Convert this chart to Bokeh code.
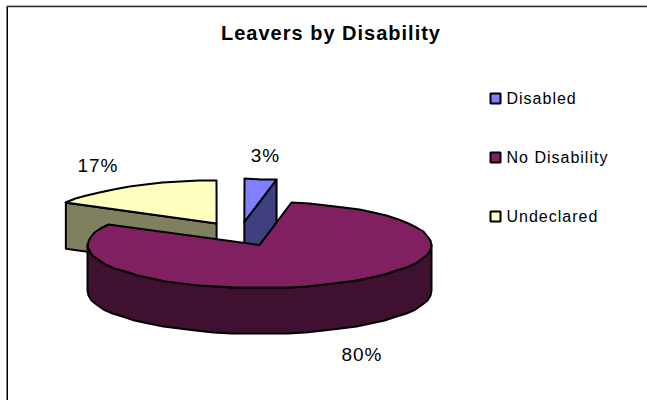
import math
from bokeh.plotting import figure
from bokeh.core.properties import value
from bokeh.embed import file_html
from bokeh.resources import INLINE

categories = ["Disabled", "No Disability", "Undeclared"]
shares = [3, 80, 17]
pct_labels = ["3%", "80%", "17%"]
title_text = "Leavers by Disability"
top_colors = ["#8080FF", "#802060", "#FFFFC0"]
wall_colors = ["#404080", "#401030", "#808060"]

# layout in page pixels
CX, CY, A, B, DEPTH, EXPLODE = 239.5, 233.5, 172, 43, 46, 46
FONT = value("Liberation Sans")

p = figure(width=641, height=395, output_backend="svg", toolbar_location=None,
           x_range=(6, 647), y_range=(400, 5), min_border=0,
           margin=(5, 0, 0, 6), outline_line_color=None,
           styles={"letter-spacing": "1px"})
p.axis.visible = False
p.grid.visible = False
p.background_fill_color = "white"
p.border_fill_color = "white"

p.line([6.5, 6.5], [400, 6], line_color="black", line_width=2)
p.line([6, 647], [5.8, 5.8], line_color="#333333", line_width=2)


def rim(t, c):
    return c[0] + A * math.sin(t), c[1] - B * math.cos(t)


def arc(t0, t1, c, dy=0):
    n = max(2, int(abs(t1 - t0) / math.radians(6)))
    pts = [rim(t0 + (t1 - t0) * i / n, c) for i in range(n + 1)]
    return [round(x) for x, _ in pts], [round(y) + dy for _, y in pts]


total = sum(shares)
slices = []
start = 0.0
for s in shares:
    sweep = 2 * math.pi * s / total
    mid = start + sweep / 2
    c = (CX + EXPLODE * math.sin(mid), CY - EXPLODE * 45 / 171 * math.cos(mid))
    slices.append((start, start + sweep, c))
    start += sweep

style = dict(line_color="black", line_width=2, line_join="round")

# Undeclared, then Disabled, then No Disability in front
for i in (2, 0, 1):
    t0, t1, c = slices[i]
    # cut faces seen from the front
    if i == 2:
        ex, ey = rim(t0, c)
        p.patch([ex, c[0], c[0], ex], [ey, c[1], c[1] + DEPTH, ey + DEPTH],
                fill_color=wall_colors[i], **style)
    if i == 0:
        ex, ey = rim(t1, c)
        p.patch([c[0], ex, ex, c[0]], [c[1], ey, ey + DEPTH, c[1] + DEPTH],
                fill_color=wall_colors[i], **style)
    if i == 1:
        wx, wy = arc(math.pi / 2, 3 * math.pi / 2, c)
        wbx, wby = arc(3 * math.pi / 2, math.pi / 2, c, DEPTH)
        p.patch(wx + wbx, wy + wby, fill_color=wall_colors[i], **style)
    ax, ay = arc(t0, t1, c)
    p.patch([c[0]] + ax, [c[1]] + ay, fill_color=top_colors[i], **style)

p.text([320], [32], text=[title_text], text_font=FONT, text_font_size="20px",
       text_font_style="bold", text_align="center", text_baseline="middle",
       text_color="black")

p.text([264, 360, 96], [155, 354, 165], text=pct_labels, text_font=FONT,
       text_font_size="19px", text_align="center", text_baseline="middle",
       text_color="black")

legend_y = [98, 157, 216]
p.scatter([495, 495, 495], legend_y, marker="square", size=10,
          fill_color=top_colors, line_color="black", line_width=2)
p.text([506, 506, 506], legend_y, text=categories, text_font=FONT,
       text_font_size="16px", text_align="left", text_baseline="middle",
       text_color="black")

open("out.html", "w").write(file_html(p, INLINE))
